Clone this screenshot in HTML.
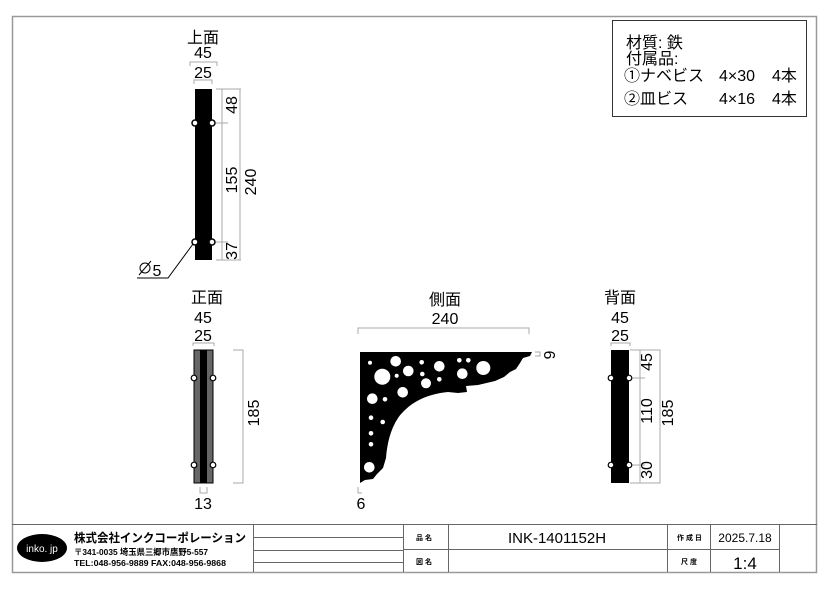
<!DOCTYPE html>
<html><head><meta charset="utf-8"><style>
html,body{margin:0;padding:0;background:#fff;}
svg{display:block;font-family:"Liberation Sans","Noto Sans CJK JP",sans-serif;}
</style></head><body>
<svg width="840" height="594" viewBox="0 0 840 594" xmlns="http://www.w3.org/2000/svg">
<rect x="12.5" y="16.5" width="804" height="556" fill="none" stroke="#999" stroke-width="1.5"/>
<rect x="612.5" y="20.5" width="194" height="96" fill="#fff" stroke="#333" stroke-width="1"/>
<g font-size="16" fill="#000">
<text x="626" y="48">材質: 鉄</text>
<text x="626" y="64">付属品:</text>
<text x="624" y="81">①ナベビス</text>
<text x="719" y="81">4×30</text>
<text x="772" y="81">4本</text>
<text x="624" y="104">②皿ビス</text>
<text x="719" y="104">4×16</text>
<text x="772" y="104">4本</text>
</g>

<g font-size="16" text-anchor="middle" fill="#000">
<text x="203" y="43">上面</text>
<text x="203" y="58">45</text>
<text x="203" y="78">25</text>
<text x="207" y="303">正面</text>
<text x="203" y="323">45</text>
<text x="203" y="341">25</text>
<text x="203" y="509">13</text>
<text x="445" y="305">側面</text>
<text x="445" y="324">240</text>
<text x="361" y="509">6</text>
<text x="620" y="303">背面</text>
<text x="620" y="323">45</text>
<text x="620" y="341">25</text>
<text x="157" y="276">5</text>
</g>
<g fill="none" stroke="#aaa" stroke-width="1">
<path d="M190 66V62H217V66"/>
<path d="M194 84V80H212V84"/>
<path d="M216 89H241M222 89V260M216 123H228M216 242H228M216 260H241M240 89V260"/>
<path d="M193 346V343H214V346"/>
<path d="M233 350H243V483H233"/>
<path d="M200 487V493H207V487"/>
<path d="M358 334V328H529V334"/>
<path d="M535 352H540V356H535"/>
<path d="M358 487V493H362"/>
<path d="M611 346V343H630V346"/>
<path d="M630 350H660V483H630M640 350V483M630 378H645M630 465H645"/>
</g>
<rect x="195" y="89" width="17" height="171" fill="#000"/>
<g fill="#fff" stroke="#000" stroke-width="1.5">
<circle cx="195" cy="123" r="3"/><circle cx="212" cy="123" r="3"/>
<circle cx="195" cy="242" r="3"/><circle cx="212" cy="242" r="3"/>
</g>
<g font-size="16" fill="#000" text-anchor="middle">
<text transform="translate(237,105) rotate(-90)">48</text>
<text transform="translate(237,180) rotate(-90)">155</text>
<text transform="translate(256,182) rotate(-90)">240</text>
<text transform="translate(237,251) rotate(-90)">37</text>
<text transform="translate(259,413) rotate(-90)">185</text>
<text transform="translate(652,362) rotate(-90)">45</text>
<text transform="translate(652,411) rotate(-90)">110</text>
<text transform="translate(652,470) rotate(-90)">30</text>
<text transform="translate(673,413) rotate(-90)">185</text>
<text transform="translate(544,355) rotate(90)">6</text>
</g>
<path d="M193 244L168 278H137" fill="none" stroke="#000" stroke-width="1"/>
<circle cx="145" cy="268" r="5" fill="none" stroke="#000" stroke-width="1"/>
<path d="M139 275L151 261" stroke="#000" stroke-width="1"/>

<rect x="194" y="350" width="19" height="133" fill="#666" stroke="#000" stroke-width="1"/>
<rect x="200" y="350" width="7" height="133" fill="#000"/>
<g fill="#fff" stroke="#000" stroke-width="1.2">
<circle cx="194" cy="378" r="2.8"/><circle cx="213" cy="378" r="2.8"/>
<circle cx="194" cy="465" r="2.8"/><circle cx="213" cy="465" r="2.8"/>
</g>

<path d="M360 352H532L530 356L523 358L520 363L516 369L510 372L504 377L495 381L478 385L466 386L467 392L458 393L448 392C425 394 408 404 398 418C390 430 387 445 386 458L383 468L377 474L373 479L365 480L360 483Z" fill="#000"/>
<g fill="#fff">
<circle cx="370" cy="362.7" r="2"/><circle cx="395.7" cy="361.3" r="5.3"/>
<circle cx="382.3" cy="376.7" r="8"/><circle cx="408.3" cy="371" r="5.3"/>
<circle cx="396.7" cy="375.7" r="2"/><circle cx="421.7" cy="362.3" r="2.3"/>
<circle cx="439.3" cy="366.3" r="5.3"/><circle cx="422.3" cy="374" r="2.3"/>
<circle cx="426" cy="383.3" r="5"/><circle cx="439.3" cy="379.3" r="2.3"/>
<circle cx="459.3" cy="360.3" r="2.3"/><circle cx="468.3" cy="360.3" r="2.3"/>
<circle cx="462.3" cy="373.7" r="5.3"/><circle cx="483.3" cy="368" r="7"/>
<circle cx="402.7" cy="392.3" r="5.3"/><circle cx="372.3" cy="398.7" r="5.3"/>
<circle cx="385" cy="399.3" r="2.3"/><circle cx="371" cy="417.7" r="2.3"/>
<circle cx="382.7" cy="422" r="2.3"/><circle cx="371" cy="433.3" r="2.3"/>
<circle cx="371" cy="444.3" r="2.3"/><circle cx="369.3" cy="467.3" r="5.3"/>
</g>

<rect x="611" y="350" width="18" height="133" fill="#000"/>
<g fill="#fff" stroke="#000" stroke-width="1.2">
<circle cx="611" cy="378" r="2.8"/><circle cx="629" cy="378" r="2.8"/>
<circle cx="611" cy="465" r="2.8"/><circle cx="629" cy="465" r="2.8"/>
</g>

<g fill="none" stroke="#666" stroke-width="1">
<path d="M12 524.5H817"/>
<path d="M253.5 524V572M403.5 524V572M448.5 524V572M667.5 524V572M710.5 524V572M779.5 524V572"/>
<path d="M403 549.5H779M253 537.5H403M253 550.5H403M253 562.5H403"/>
</g>
<ellipse cx="42" cy="548" rx="25" ry="14" fill="#000"/>
<text x="42" y="552" font-size="10" fill="#fff" text-anchor="middle">inko. jp</text>
<text x="74" y="542" font-size="12" font-weight="bold" textLength="172" lengthAdjust="spacingAndGlyphs">株式会社インクコーポレーション</text>
<text x="74" y="555" font-size="8.5" font-weight="bold" textLength="134" lengthAdjust="spacingAndGlyphs">〒341-0035 埼玉県三郷市鷹野5-557</text>
<text x="74" y="566" font-size="8.5" font-weight="bold" textLength="152" lengthAdjust="spacingAndGlyphs">TEL:048-956-9889  FAX:048-956-9868</text>
<g font-size="7" font-weight="bold">
<text x="416" y="540">品 名</text>
<text x="416" y="564">図 名</text>
<text x="677" y="540">作 成 日</text>
<text x="681" y="564">尺 度</text>
</g>
<text x="557" y="543" font-size="15" text-anchor="middle">INK-1401152H</text>
<text x="745" y="542" font-size="12" text-anchor="middle">2025.7.18</text>
<text x="745" y="569" font-size="17" text-anchor="middle">1:4</text>
</svg>
</body></html>
